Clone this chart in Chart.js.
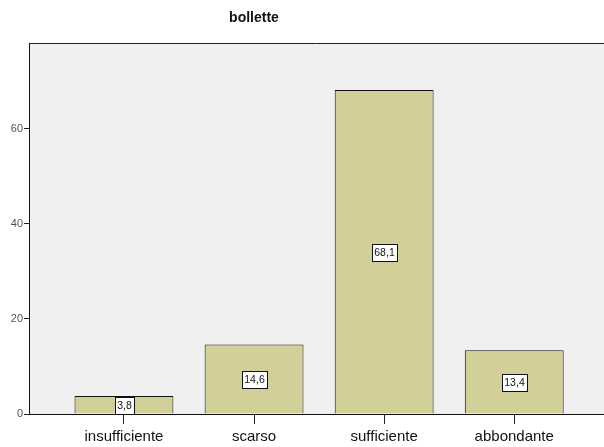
<!DOCTYPE html>
<html>
<head>
<meta charset="utf-8">
<script src="https://cdn.jsdelivr.net/npm/chart.js@4/dist/chart.umd.min.js"></script>
<style>
  html, body { margin: 0; padding: 0; background: #ffffff; overflow: hidden; }
  #wrap { width: 604px; height: 447px; }
</style>
</head>
<body>
<div id="wrap"><canvas id="c" width="604" height="447"></canvas></div>
<script>
// Category labels and percentage per category
const categories = ['insufficiente', 'scarso', 'sufficiente', 'abbondante'];
const percentages = [3.8, 14.6, 68.1, 13.4];
const yTicks = [0, 20, 40, 60];
const chartTitle = 'bollette';

const FONT = '"Liberation Sans", Arial, sans-serif';

// Grey plot panel with a dark top edge, plus the centred title
const panelPlugin = {
  id: 'panel',
  beforeDraw(chart) {
    const { ctx, chartArea: a } = chart;
    ctx.save();
    ctx.fillStyle = '#f0f0f0';
    ctx.fillRect(a.left, a.top, a.right - a.left, a.bottom - a.top);
    ctx.strokeStyle = '#222222';
    ctx.lineWidth = 1;
    ctx.beginPath();
    ctx.moveTo(a.left, a.top + 0.5);
    ctx.lineTo(a.right, a.top + 0.5);
    ctx.stroke();
    ctx.restore();
  },
  afterDraw(chart) {
    const { ctx } = chart;
    ctx.save();
    ctx.font = 'bold 14px ' + FONT;
    ctx.fillStyle = '#111111';
    ctx.textAlign = 'center';
    ctx.textBaseline = 'middle';
    ctx.fillText(chartTitle, 254, 18);
    ctx.restore();
  }
};

// Boxed value labels in the middle of each bar
const valueBoxPlugin = {
  id: 'valueBox',
  afterDatasetsDraw(chart) {
    const { ctx } = chart;
    const meta = chart.getDatasetMeta(0);
    ctx.save();
    ctx.font = '10.5px ' + FONT;
    ctx.textAlign = 'center';
    ctx.textBaseline = 'middle';
    meta.data.forEach((bar, i) => {
      const text = percentages[i].toFixed(1).replace('.', ',');
      const cx = Math.round(bar.x);
      const cy = Math.round((bar.y + bar.base) / 2);
      const w = Math.ceil(ctx.measureText(text).width) + 4;
      const h = 17;
      const x0 = Math.round(cx - w / 2) + 0.5;
      const y0 = Math.round(cy - h / 2) + 0.5;
      ctx.fillStyle = '#ffffff';
      ctx.fillRect(x0, y0, w, h);
      ctx.strokeStyle = '#111111';
      ctx.lineWidth = 1;
      ctx.strokeRect(x0, y0, w, h);
      ctx.fillStyle = '#111111';
      ctx.fillText(text, cx + 0.5, cy + 1);
    });
    ctx.restore();
  }
};

new Chart(document.getElementById('c'), {
  type: 'bar',
  data: {
    datasets: [{
      data: categories.map((c, i) => ({ x: i, y: percentages[i] })),
      backgroundColor: '#d3cf98',
      borderColor: '#111111',
      borderWidth: 1,
      borderSkipped: 'bottom',
      barPercentage: 0.76,
      categoryPercentage: 1.0
    }]
  },
  options: {
    responsive: false,
    animation: false,
    layout: { padding: { top: 43, left: 0, right: 0, bottom: 0 } },
    plugins: {
      legend: { display: false },
      title: { display: false },
      tooltip: { enabled: false }
    },
    scales: {
      x: {
        type: 'linear',
        offset: false,
        min: -0.73,
        max: 3.69,
        afterFit(scale) { scale.height = 33; },
        afterBuildTicks(scale) { scale.ticks = categories.map((c, i) => ({ value: i })); },
        grid: { display: true, offset: false, drawOnChartArea: false, drawTicks: true, tickLength: 10, color: '#222222', lineWidth: 1 },
        border: { display: true, color: '#111111', width: 1 },
        ticks: {
          autoSkip: false,
          maxRotation: 0,
          padding: 4,
          color: '#111111',
          font: { family: FONT, size: 15 },
          callback: (v) => categories[v] ?? ''
        }
      },
      y: {
        min: 0,
        max: 78,
        afterFit(scale) { scale.width = 29; },
        afterBuildTicks(scale) { scale.ticks = yTicks.map(v => ({ value: v })); },
        grid: { display: true, drawOnChartArea: false, drawTicks: true, tickLength: 5, color: '#222222', lineWidth: 1 },
        border: { display: true, color: '#111111', width: 1 },
        ticks: {
          padding: 1,
          color: '#555555',
          font: { family: FONT, size: 11 }
        }
      }
    }
  },
  plugins: [panelPlugin, valueBoxPlugin]
});
</script>
</body>
</html>
